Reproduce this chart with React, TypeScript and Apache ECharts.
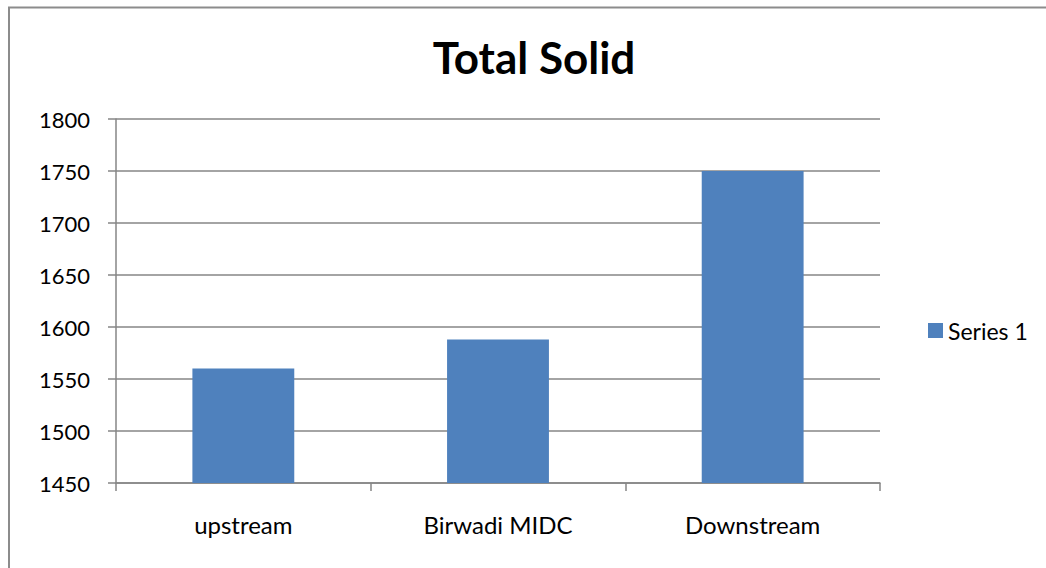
import React, { useEffect, useRef } from "react";
import * as echarts from "echarts";

const categories = ["upstream", "Birwadi MIDC", "Downstream"];
const seriesName = "Series 1";
const values = [1560, 1588, 1750];
const yMin = 1450;
const yMax = 1800;
const yStep = 50;

const FONT = "Lato, 'Noto Sans', sans-serif";

export default function App() {
  const ref = useRef<HTMLDivElement>(null);
  useEffect(() => {
    if (!ref.current) return;
    const chart = echarts.init(ref.current, undefined, { renderer: "svg" });
    chart.setOption({
      animation: false,
      backgroundColor: "#ffffff",
      textStyle: { fontFamily: FONT },
      title: {
        text: "Total Solid",
        left: 529,
        textAlign: "center",
        top: 30,
        textStyle: { fontFamily: FONT, fontWeight: "bold", fontSize: 44, color: "#000" },
      },
      graphic: [
        {
          type: "rect",
          shape: { x: 9, y: 7.5, width: 1100, height: 600 },
          style: { fill: "none", stroke: "#8c8c8c", lineWidth: 2 },
          silent: true,
        },
      ],
      legend: {
        data: [seriesName],
        left: 923,
        top: 314,
        orient: "vertical",
        itemWidth: 15,
        itemHeight: 15,
        itemGap: 8,
        icon: "rect",
        textStyle: { fontFamily: FONT, fontSize: 23, color: "#000" },
      },
      grid: { left: 116, top: 119, right: 166, bottom: 85, containLabel: false },
      xAxis: {
        type: "category",
        data: categories,
        axisLine: { lineStyle: { color: "#868686", width: 1.5 } },
        axisTick: { show: true, length: 8, lineStyle: { color: "#868686", width: 1.5 } },
        axisLabel: { fontFamily: FONT, fontSize: 24, color: "#000", margin: 29 },
        splitLine: { show: false },
      },
      yAxis: {
        type: "value",
        min: yMin,
        max: yMax,
        interval: yStep,
        axisLine: { show: true, lineStyle: { color: "#868686", width: 1.5 } },
        axisTick: { show: true, length: 8, lineStyle: { color: "#868686", width: 1.5 } },
        axisLabel: {
          fontFamily: FONT,
          fontSize: 22,
          color: "#000",
          margin: 26,
          formatter: (v: number) => String(v),
        },
        splitLine: { show: true, lineStyle: { color: "#868686", width: 1.5 } },
      },
      series: [
        {
          name: seriesName,
          type: "bar",
          data: values,
          barWidth: "40%",
          itemStyle: { color: "#4f81bd" },
        },
      ],
    });
    return () => chart.dispose();
  }, []);
  return (
    <div
      ref={ref}
      style={{ position: "fixed", left: 0, top: 0, width: 1046, height: 568 }}
    />
  );
}
